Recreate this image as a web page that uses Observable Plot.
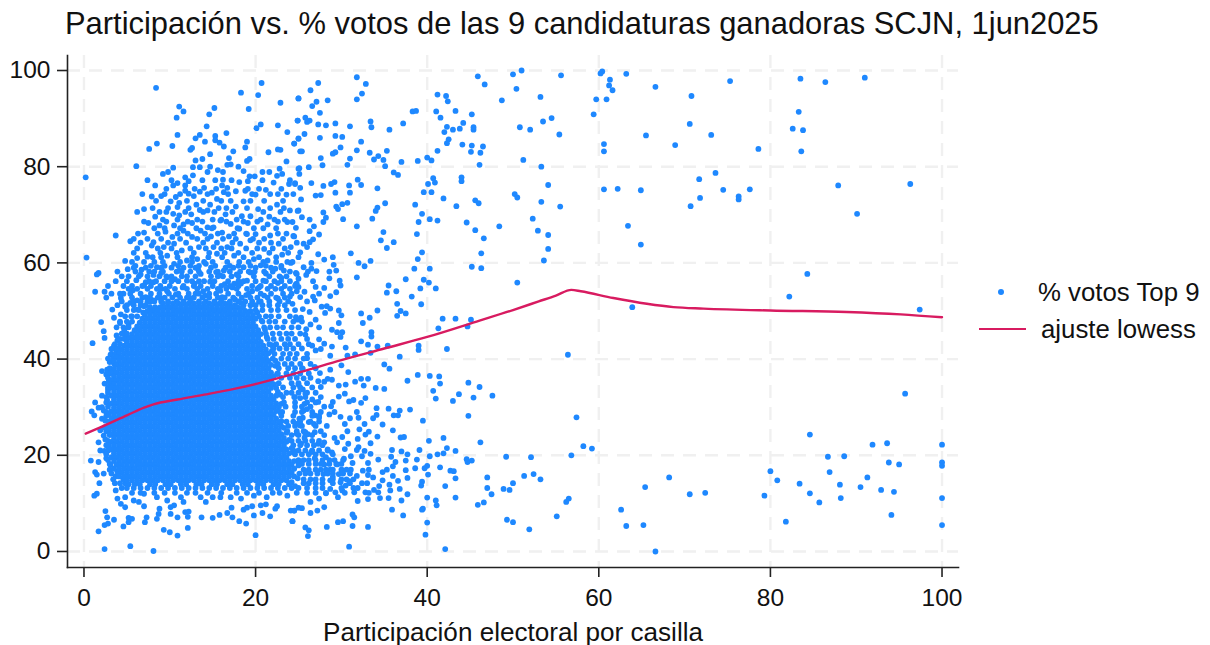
<!DOCTYPE html>
<html lang="es">
<head>
<meta charset="utf-8">
<script src="https://cdn.jsdelivr.net/npm/d3@7"></script>
<script src="https://cdn.jsdelivr.net/npm/@observablehq/plot@0.6"></script>
<style>
html,body{margin:0;padding:0;background:#fff;width:1210px;height:645px;overflow:hidden}
body{position:relative;font-family:"Liberation Sans",Arial,sans-serif;color:#111}
#title{position:absolute;left:65px;top:6px;font-size:30.9px;line-height:36px;white-space:nowrap}
#chart{position:absolute;left:0;top:50px}
#xlabel{position:absolute;left:323px;top:617px;font-size:26.1px;line-height:30px;white-space:nowrap}
.leg{position:absolute;font-size:25.8px;line-height:30px;white-space:nowrap}
.dot{position:absolute;left:998px;top:289px;width:6px;height:6px;border-radius:50%;background:#1e88ff}
.ln{position:absolute;left:979px;top:328px;width:47px;height:2px;background:#d81b60}
</style>
</head>
<body>
<div id="title">Participación vs. % votos de las 9 candidaturas ganadoras SCJN, 1jun2025</div>
<div id="chart"></div>
<div id="xlabel">Participación electoral por casilla</div>
<div class="dot"></div><div class="leg" style="left:1038px;top:277px">% votos Top 9</div>
<div class="ln"></div><div class="leg" style="left:1041px;top:314px">ajuste lowess</div>
<script>
const xTicks = [0,20,40,60,80,100];
const yTicks = [0,20,40,60,80,100];
const lowessX = [0.2,1.9,5,7,8.1,10.9,14,17.5,20.2,25.2,30,35,40,46.1,50,53,55,56.8,57.9,61.7,65.6,68.7,72.2,80,88.9,95.2,100];
const lowessY = [24.5,25.8,28.3,29.9,30.6,31.6,32.6,33.8,34.9,37.3,39.8,42.2,44.6,48,50.2,52,53.2,54.4,54.1,52.7,51.5,50.8,50.5,50.1,49.8,49.3,48.7];
// flat x,y pairs
const farRight = [60.4,99.8,60.2,99.4,61.3,98.1,61.2,96.9,61.6,95.9,63.2,99.3,66.6,96.6,59.7,94,60.9,94,59.4,90.9,70.8,94.7,75.3,97.8,83.5,98.3,86.4,97.6,91,98.5,83.3,91.4,82.6,87.9,83.8,87.6,83.6,83.2,70.6,88.9,73.1,86.6,68.9,84.5,65.5,86.5,60.6,84.7,60.6,83.2,78.6,83.7,73.6,78.7,71.7,77.4,60.6,75.3,62.2,75.4,64.9,75.1,74.5,75.2,77.6,75.3,76.3,73.8,76.3,73.2,71.8,73.5,70.7,71.8,87.9,76.1,96.3,76.4,90.1,70.2,63.4,67.7,64.9,63.8,84.3,57.7,82.2,53,63.9,50.8,97.4,50.3,58.2,21.9,59.2,21.4,95.7,32.8,84.6,24.3,91.9,22.2,93.6,22.5,100,22.2,86.7,19.7,88.6,19.8,93.8,18.5,95,18.1,100,18.5,100,17.8,80,16.7,80.8,14.8,86.9,16.5,91.3,15.4,83.4,14.1,88.1,13.9,90.5,13.4,92.9,12.8,94.4,12.4,84.6,12.1,88.2,11.1,85.7,10.2,79.3,11.6,100,11.1,94.1,7.6,100,5.5,81.8,6.2,68.2,15.4,65.4,13.4,70.6,11.9,72.4,12.2,62.6,8.7,63.2,5.3,65.2,5.5,66.6,0];
const midTop = [31.8,98.6,32.85,97.2,32.4,95.2,31.8,94,27.3,97.4,26.4,95.9,25,94.2,28.4,93.8,27.1,93.5,26.6,92.6,27.5,91.2,24.9,89.6,25.8,90.2,26.3,89.6,26,89.3,27.3,88.8,28.2,88.6,29.3,89,31,88.4,33.4,89.4,33.5,88.2,35.6,87.7,37.2,89,38.3,91.5,38.7,91.6,41.2,95,42.2,94.7,42.4,93.6,41.05,91.5,43.3,91.6,45.2,90.9,41.55,90.2,44.2,89.1,42.3,88.3,43,87.7,43.8,87.9,45.4,88.2,45.4,87.7,42,87.2,42.5,85.7,42.3,84.9,44.1,84.6,45.2,84.4,46.5,84.2,41.2,83.3,45.1,83.1,46.2,82.9,45.9,98.8,46.7,97.1,50,99.2,51,100,55.6,99,50.4,96.2,48.7,93.8,53.2,94.5,54.5,90.1,53.5,89.4,50.8,88.2,52,87.7,55.4,86.7,51.2,81.4,53.3,80,46.1,80.4,40,81.9,40.5,81.3,38.9,81.2,37,81,35.3,83.3,33.3,82.9,31.8,83.4,34.3,82.2,33.8,81.5,34.9,81.4,35.1,80.1,36.1,78.8,36.6,78.3,32.3,85.2,31,81.7,30.7,80.4,27.6,81.8,27.8,80.3,26.2,79.9,25.1,79.7,25.1,78.5,29.3,86.4,30.1,86.2,27.5,86,25.7,86.8,25,85.9,24.5,84.8,25.4,83.2,29.9,84,29.3,83,29,82.7,31.9,77.3,32.3,76.2,30.9,76.1,29.2,76.8,28.8,76.4,27.9,76,26.5,76.6,24.6,76.6,25.2,75.6,34.2,75.5,29.3,74.6,31,74.6,27.6,74.1,27,74,25.3,73.2,40.1,76.4,40.7,77.6,40.9,76.7,44,77.8,44,77,39.6,74.7,40.5,74.7,41.9,73.4,45.6,73,46,72.4,50.2,74.3,50.5,73.6,54.1,76.2,53.3,72.7,55.5,71.7,43.4,71.8,38.6,72.1,35.1,72.4,34.2,71.5,34,70.8,30.7,72.5,30.1,72.2,29.4,71.7,29.6,71.2,27.9,70.5,24.9,70.8,28.2,69.4,27.9,68.5,25.4,69.5,26.3,69,30.2,69.1,33.6,69.2,39.4,70.2,40.3,69.1,41.2,68.8,39,68.5,31.8,67.6,44.6,68.4,45.6,66.8,48.4,67.6,52.3,69.2,52.9,66.7,54.1,65.8,46.6,65.1,54.1,62.9,53.6,60.5,46.3,62,45.2,59.2,46.3,58.9,50.5,55.9,34.9,66.4,38.8,66,34.6,64.7,36.1,64.3,35.3,63.1,39.4,62.2,38.9,60.8,31.1,62,29,61.2,28,60.7,27.3,61.8,33.4,60.4,32,60,32.7,59.3,38.5,58.8,40.3,58.8,37.5,56.6,39.6,56.5,40.2,55.9,31.8,57,35.5,55.3,39.2,54.7,41,54.7,35.3,53.8,36.4,54.1,38.2,53,36.5,51.5,39.3,51.4,34.2,50.1,32.3,49.5,33.3,48.6,36.9,50,37.5,49.5,36.5,49,41.8,48.4,43.3,48.4,45.1,48.2,26.3,66.6,27.4,65.9,26.8,67.6,24.7,67.3,24.4,65.6,26.7,64.9,26.3,64.3,25.6,64,26,63.3,25.6,59.1,26.5,60,26.5,58.8,27.1,58.3,29.1,59.6,29.4,58.4,28.6,58.2,29.8,56.3,29.9,55.3,26.7,56.2,25.9,57.5,24.8,57.7,28,54.8,27.4,53.6,26.7,53,26.9,52.2,28.7,53.1,29.4,53.9,25.5,50.4,27.7,50.9,28.3,51,28.7,50.5,28.1,49.6,29.7,50.1,30,49.1,24.7,55.6,25,55,24.8,54.1,25.2,52.9,24.3,51.5,24.7,48.7,25.3,48.6,24.1,60];
const midLow = [41.3,46.4,44.7,46.8,39,42.8,39,41.9,42.3,42.1,36.8,40.5,56.4,40.9,35,38.9,35.6,38,38.9,36.7,40.3,36.5,41.4,36.4,41.5,34.9,37.7,35.5,44.8,35.1,46.1,34.2,40.7,33.4,43.7,32.7,47.6,32.4,45.4,32,41,31.8,43,31.3,44.8,28.2,57.4,27.9,39.5,27.2,46.2,22.7,41.9,23.6,40.2,23,42.3,21.5,43.3,20.9,41.9,20.4,41.2,20.2,40.3,19.8,39.1,21.1,38.8,19.1,40,17.8,39.7,17.3,41.5,17.5,44.6,19.2,45.2,18.9,44.7,18.6,49.2,19.7,52.1,19.6,56.8,20,42.7,16.8,43.1,16.7,40.1,16,43.3,15.2,47,15.4,51.3,15.7,52.4,16.1,53.2,15,50,14.2,47,13.2,48.9,13,49.6,12.8,47.5,11.9,42.1,13.6,39.4,14.5,39.3,13.7,43.3,11.2,40,11.2,41,10.6,41.1,9.6,46.6,10.2,45.9,9.7,56.5,11,56.2,10.3,39.5,8.9,39.4,8.7,35.9,8.7,37.2,7.5,40,6,39.8,3.5,42.1,0.5,49.3,6.6,50,6.1,51.9,4.6,55.1,7.3,30.9,1,33.1,5.1,31.3,5.3,31.5,7.1,31.3,7.7,30.2,6.3,29.6,6.1,28.3,5.1,26.2,4.4,25.8,5,26.1,3.2,26.4,8,24.3,6.3,27.2,8.5,24.5,8.5,25.4,9,35.5,29.7,34.1,29.8,36.8,29.3,38,29.5,36.1,28.3,36.6,28.3,34.1,28.4,33.7,27.7,36,25.2,34.2,23.9,36.9,23.7,37.3,23.8,32.8,24.3,32.1,25.4,32.7,26.5,32,27.8,31.8,29,29.2,29,28.6,28.5,28.3,26.1,27.4,27.8,30.4,26.5,30.7,25,30.1,23.8,29.2,23.6,28,22.7,29.5,22.7,31.9,23.4,33.4,22.5,30.4,21.3,32,21.7,35.9,21.1,37,20.8,37.7,20.2,35.8,19.7,37.5,18.9,36.3,18.6,36,17.7,35.3,17,34.8,16.5,37.5,16.9,38.6,17.3,37.7,15.3,36,15.7,34.8,14.8,36.6,14.7,33.7,15.4,33.2,17,32.5,16.8,31.8,15.7,32.4,14.2,32.8,12.3,34.5,11.1,33.1,10.9,31.9,10.5,35.5,11.1,37,10.6,37.7,11.9,35.7,12.7,36.8,13,33.8,12.8,34.3,12.3,31.5,12.3,30.5,13.7,29.9,14.4,29.3,12.3,29.6,11.3,28.7,13,28,9.2,27.4,11,26.4,10.3,33.4,20.3,34.3,19.1,33.1,18.4,32.4,19.8,31.1,19.8,30.3,19.3,31.1,17,29.5,18.1,29.7,16.1,28.7,17,27.9,16.1,28.7,14.8,28,18.1,32.5,47.5,33.5,45.6,33.5,44.7,32.3,43.7,33.1,43,34.2,42.6,35.4,42.8,30.5,42.4,28.9,42.6,28,43.2,27.4,44.1,26.4,47.2,27.4,46.6,28.9,46.1,29.7,47.5,29.5,45.6,30.1,45.6,29.9,44.6,25.2,45.3,25.8,45.1,24.9,48.2,27.6,42.1,27,41.8,28.7,40.7,30.7,40.7,31.6,41,33.4,41.3,30,38.7,30.8,37.3,28.7,37.8,27.5,37.1,25.6,36,27.3,35.4,28,35.3,28.4,35.9,28.9,35.7,29.7,34.5,30.5,34.7,31.6,35.3,32.3,35.9,33.1,35.9,32.6,34.5,34,34,35,33.8,27.6,34.2,25.5,33.7,30.4,32.8,29.7,32.2,32.8,31.9,31.4,31.5,30.9,31.2,32.3,30.9,29,31.1,27.3,31.1,26.6,31.6,25.8,32.8,25.2,31.9,24.5,32.1,25.6,29.3,25.5,27.8,26.2,26.9,26.8,26.5,25.2,26.2,26.9,24.8,25.8,24.8,24.8,24.5];
const upperLeft = [0.2,77.8,0.3,61.1,8.4,96.4,11.1,92.5,11.6,91.5,10.8,90.2,15.2,92.2,14.6,90.9,14.3,88.4,18.3,95.4,20.7,97.4,20.3,94.9,19.2,92,22.9,93.3,25,94.2,24.9,89.6,22.6,88.6,20.1,88,20.6,88.8,23.7,87.2,24.5,84.8,25,85.8,10.9,86.6,13,85.9,13.5,86.6,14.1,85.2,15.3,86.4,15.3,85.5,15.8,85,16.3,84.2,16.6,87,8.5,84.8,7.6,83.7,10.3,84.3,12.6,83.9,12.4,83.5,19,85.2,18.8,84,17.4,83.2,14.7,82.6,16.9,81.8,13.8,81.6,13,81.3,21.5,83,22.6,83.6,22.9,83.5,25.2,83.2,6.1,80.1,10.4,79.8,12.7,79.9,13.5,79.9,14.7,80,15.6,79.3,16.7,80.4,17.1,80.5,18,80,18.6,79.1,19,81.2,19.3,81.6,20.8,78.9,23.6,81.1,22.8,79.6,23.1,78.5,22.5,78.1,25,79.6,9.2,78.5,11.8,77.8,12.7,78.2,12.2,77,16.2,77.3,18.1,76.8,19.3,78,19.9,78,19.1,77,22.1,76.7,23.9,76.4,24.6,76.4,10.9,76.6,10.4,76.1,8.3,76.1,16.1,76.1,11.8,76.1,14,75.6,16.7,75.6,13.5,74.8,11.8,75,21.2,75.2,21.7,74.3,16.3,74.7,14.9,74.6,17.7,74.9,18.8,75,20,74.2,7.9,73.8,9,73.9,10.7,73.7,12.2,74.4,12.8,73.9,15.5,73.3,18.6,72.8,23.6,74.2,10.1,72.8,11.1,72.5,10.9,71.6,13.1,72.1,14.7,72.1,17.7,71.7,20.3,71.2,22.5,72.1,24,70.9,25,70.9,7,71.2,9.6,70.6,10.4,70.2,12.5,70.1,13.5,71,14.4,70.9,16.5,70.1,18.4,69.7,19.4,69.7,21.6,69.6,8.3,69.6,11.1,69.9,7.5,68.3,8.8,67.8,10.5,67.8,11.6,68,12.6,68.3,14.4,67.4,15.9,68.8,17.1,68.1,19.1,68.3,21.4,68,23.7,68.5,24.3,68.5,7,66.3,9.5,66.5,11.6,66.7,13.6,66.7,15.1,67.4,16.1,66.3,18.1,67.1,3.7,65.7,5.4,64.5,8.1,64.3,10.3,65.4,12.6,65.4,14.8,65.5,16.9,65.5,19,66,20,66,21.7,65.7,24.5,65.5,7.9,63.6,9.3,63.3,10.5,64,11.4,62.6,13.4,63.3,15.1,63.3,16.7,63.3,18.2,64,19.4,64.7,21,62.9,22.7,64,24.1,63.3,25.2,62.2,7.4,61.3,6.2,61,4.8,60.4,5.1,58.7,6.7,58.6,9.7,61.5,12,60.5,13.2,60.8,15.5,61.9,17.5,61.5,19.8,60.8,21.4,60.5,23.1,61.7,24.3,60.2,1.7,57.9,1.5,57.6,8.5,59.1,10.5,59.8,14.2,59.8,16.3,58.4,18.6,59.1,20.6,59.5,22.3,58.8,23.3,58.4,24.7,57.9,6.1,56.4,7.2,56,8.1,57.5,9.7,57,12,56.3,13.6,57.7,15.9,57.4,17.5,55.7,19,56.3,20.9,56.3,22.3,54.6,24.8,55.7,1.3,54,2.4,54,4.6,53.6,5.7,54.3,4.3,52.7,5.4,51.7,6.2,52.2,7.2,52.9,3.3,50.3,8.1,52.2,4.8,50.9];
const lowerLeft = [2,47.7,2.3,45.8,2.4,44.4,1,43.3,3.5,48.6,4.3,49.3,3.9,43.9,4.8,44.7,3.2,42.1,3.8,41.8,3,39.4,3.5,39.1,2.1,37.5,2.6,36.8,2.4,34.9,2.1,32.4,1.3,31,1.7,29.9,2.1,30,0.9,29.1,1.2,28.3,2.1,27.6,1.9,25.2,2.3,24.1,1.7,22.7,1.9,21,0.8,18.9,1.7,18.6,1.3,16.5,1.5,16,2.3,16.2,1.8,14.2,1.2,11.6,1.5,12,2.5,8.4,2.7,7.1,3.5,6.6,2.4,5.5,2.8,5.8,1.7,4.2,2.4,0.5,5.4,1.1,8.1,0.1,4.6,5.2,5.2,7,5.6,6.8,5.2,6.1,7.1,6.1,7.3,7.1,8.5,6.8,8.7,7.8,8.8,8.9,9.3,4.5,10,4,10.9,3.3,12.1,4.9,10.9,7.1,10.1,7.8,11.8,8.2,12.2,8.3,12.1,7.2,13.7,7.1,15,7,15.8,7.6,16.7,8,17.2,9.1,17.3,7.1,18.1,6.3,18.9,5.8,18.6,8.7,19,9.1,19.6,9.4,19.8,7.5,20.8,8,21.7,7.3,20,3.4,22.3,8.9,22.5,9.4,24.1,8.5,24.5,8.5,24.3,6.3,25,9.1,20.6,9.6,21.2,9.8,3.7,12.7,4.8,11.3,3.9,11,4.3,9.9,4.8,9.2,5.8,10.6,6.4,10.3,7,9.4,9.7,10.6,10.1,9.2,10.5,9.6,11.3,11.3,11.6,10.3,13.6,11.3,14.2,10.3,15,11.3,15.9,11.3,17.1,11.3,18.3,11,19.8,11.6,21.3,11.3,23.7,11.6,7,12,8.5,11.3];
const edgeFill = [8.9,52.7,10.7,53.4,12.5,52.6,14.1,53.2,16.1,52.9,18.9,53.3,9.7,54.1,11.5,54.9,13.9,54.1,15.9,54.2,17.3,54.9,19.6,54.1,21,53.2,7,55.3,8.1,56,10.6,56.6,12.9,55.7,14.7,56.1,16.4,55.6,18.3,55.7,20.4,54.9,22.6,55.8,6.6,57.6,9,57.9,11.1,58.4,13.3,58.7,15.4,58.1,17.8,57.6,19.4,58,21.2,57.8,23,56.9,24,53,22.6,52.6,20.4,51.9,18.3,51.7,17.6,52.4,7,51,6.2,50.3,7.7,51.9,6.9,49.7,5.5,48.9,5.2,47.2,4.7,46,20.2,49.7,20.7,48,21.1,46.1,21.3,44.6,21.9,42.9,21.9,41.7,22.3,39.7,22.3,38.6,22.5,36.9,22.6,33.2,22.9,32.6,23,30.7,22.9,28.9,23,27.1,23.3,25.7,23.6,24.7,23.9,23.2,24.2,21.5,24.4,20.6,25,18.6,25,17.9,25.1,16.2,24.9,15.2,24.2,14.4,24.6,13.6,5.2,14,4.8,14.2,4.6,15,3.7,15.6,3.9,16.6,3.1,18,2.6,19.4,2.4,20.9,2.5,23.3,2.4,25.8,2.5,27.2,2.3,29.3,2.7,31.5,2.8,33.6,2.9,35.5,2.7,37.8,3.1,40.9,3.5,42.8,3.8,44.9,4.2,47.5,24.9,26.6,25.3,22.4,25.7,23.6,26.5,20.7,26.9,19.4,28.2,19.6,28.9,20.6,29.2,19,27.3,22.4,28.4,21.2,26.1,24.4,25.1,27.6,26,29.6,26.9,28.3,25.7,30.7,25,34.7,25.5,38,26,40.2,26.9,38.4,26.6,42.8,25.9,46.2,27,48.2,26.3,49.8,26,52,25.7,54,27,55,28.6,56.8,25,56.7,26.1,58.2,30.9,14.6,31.9,13.2,33.1,15.9,34.4,13.6,35.6,13.9,28.2,12.1,29,15.5,30.1,12.7,32.7,20.9,31.3,18.4,31.8,21.1,30.1,16.9,30.8,22.4,33.2,24.9,34.8,26.4,31,27.7,29.9,28,28.8,30.2];
// bands of many overlapping points: [y, x, x, x, ...]
const upperFill = [
[78.9,9.8,14.4,16.2,21.6],[77.2,7.4,10.2,13.8,15.3,17.2,20.8,24],[75.4,9.6,12.9,15.4,19.1,20.4,23],[74.3,6.8,9.4,11.2,14.4,16.8,19.6,22.6,24.4],
[72.9,8.4,12,13.9,16,17.1,19.4,21,23.2],[71.4,8,9.8,12.2,15.7,16.6,19,21.7,23.3],[70.6,6.2,8.8,11.8,13.9,15.2,17.3,20.9,22.9],[69,9.2,10.9,13.2,15,16,17.8,20.6,22.2,23.4],
[68.6,7,9.6,12.1,13.8,16.6,18.6,20.2,22.6],[67.2,8.2,9.4,11.2,13.1,14.9,17.9,19.8,20.9,22.4],[66.1,6.3,8.6,10.9,12.1,14.1,15.6,17.5,18.9,22.6,23.6],[65,5.8,7.4,9,11.2,13.2,14.4,16.2,17.7,19.7,21,23.2],
[64.2,6.6,9.8,11.9,13.9,15.5,17.3,20.4,21.8,24.8],[63,6.2,8.6,10.2,12.4,14.2,16,17.2,18.9,20.2,22,23.4],[62.1,5.8,7.2,8.9,10.8,12.8,14.6,16.4,18,19.6,21.6,23.8],[61.2,8,9,10.9,12.6,14.5,16.1,18.6,20.4,22.4,25],
[60.2,5.6,7,8.2,9.2,11.2,12.6,14,15,16.7,18.1,19.2,20.9,22.4,23.7],[59.4,6,7.8,9.4,11,12.4,13.4,15.3,17,18,19.4,21.2,23]
];
const halo = [
[59,9,11.6,16.5,23,5.8,7.2,10.2,13,14.8,17.4,20,21.8],[58.2,7.6,9.2,10.8,12.4,14.6,17,19.2,21,22,3.9,6,8.2,11.4,13.4,15.6,18.2,19.9,24],[57.2,6.4,8.8,10.2,11.4,13,14.8,16.2,18,19.8,21.6,23.6,4.4,5.2,7.4,9.6,12,15.6,17.2,22.8],
[56.2,8.4,9.4,11,12.6,14,15.2,16.8,18.6,20,21.2,23,24,3.7,5,7.6,10.2,13.4,18,22.2],[55.2,6.8,7.8,8.9,10,11.6,12.8,13.6,15,16,17,18,19.6,20.6,21.8,23.4,2.8,4.6,5.6,24.6],
[54.6,6.2,7.4,8.5,9.5,10.6,12,13.2,14.4,15.6,16.6,17.8,19,20.2,21.4,23,24,5.2,9],[53.6,5.4,6.6,7.8,8.8,9.9,11,12.2,13.4,14.6,15.4,16.8,18,19.2,20.6,21.8,23.2,24.2,3.2,4.2,13],
[52.8,6.8,7.7,8.6,9.4,10.3,11.2,12,12.8,13.8,14.6,15.6,16.4,17.4,18.4,19.4,20.2,21.4,22.4,23.4,2.6,5.6],[52,4.4,5.8,6.6,7.4,8.2,9,9.8,10.8,11.6,12.4,13.4,14.2,15.2,16,17,18,18.8,19.6,20.6,21.6,22.8,23.8],
[51.2,3.9,5,5.8,6.6,7.2,16.8,17.6,18.6,19.4,20,20.8,21.6,22.6,23.4],[50.2,5,5.8,6.4,20,20.8,21.8,22.6,23.6,24.6],[48.9,4.8,5.6,6.2,20.4,21.2,21.8,22.7,24],
[47.8,4.2,5,5.6,20.8,21.6,22.3,23.4,24.4,25.4],[46.6,3.8,4.6,5.2,21,21.7,22.5,23.2,24.2,25],[45.3,4.4,5,21.2,22,22.8,23.6,24.2],[44.2,4.2,4.7,21.4,22.1,23,23.8,24.6,26],
[43.1,3.6,4.2,21.6,22.4,23.4,24,25,26.2],[42.2,3.4,3.9,22.1,22.8,23.6,24.4,25.4],[41.1,3.2,3.7,22.2,23.2,24,24.8,26],[40.1,2.8,3.4,22,23,23.8,24.6,25.6],[39,22.6,23.4,24.2,25.2,26.4],[38.1,3,22.7,23.8,24.6,25.4,27],
[37,3,22.6,23.6,24.4,25.2,26.2],[36.1,2.8,23,24,24.8,26.4],[35,3,22.7,24.2,25,26],[34.1,2.8,23.2,24.4,25.2,26.6],[33,2.8,23.6,24.2,25,26,27],[32.1,2.6,23.2,24.6,25.8,27.6],
[31,2.6,23.3,24.6,26,27],[30.1,2.8,23.5,24.6,25.4,26.4,28],[29,2.6,23.1,24.6,25.4,26.6,27.6],[28.2,2.6,23,24.4,26.6,27.4],[27,3,23.6,24.4,25.2,26.4,27.4],[26.1,2.8,23.8,24.6,25.4,27],
[25,2.6,23.7,24.8,25.6,27.6],[24.2,3,24.2,25,25.8,26.6,28],[23,2.8,24.2,25,25.8,26.6,27.4],[22.1,2.6,24.4,25.2,26,26.8,27.8],[21,2.8,24.4,25,25.8,26.6,27.4,28.4],[20.2,2.6,24.6,25.4,26.2,27,27.8,29],
[19,2.8,25,25.6,26.2,27,27.8,28.6,30.2],[18.2,3,25.4,26.2,27,27.6,28.6,29.4,30],[17,3,25.6,26.2,27,27.6,28.2,29,30,30.6],[16.2,3.2,25.8,26.4,27.2,28.4,29,30.2,31],[15,3.4,25.6,26.4,27,27.8,29,30,30.6,31.4],[14.2,3.6,4.2,25.6,26.2,27,27.8,29,31,33],
[13.2,4.4,5,5.8,6.6,7.4,8.2,9,9.8,10.6,11.4,12.2,13,13.8,14.6,15.4,16.2,17,17.8,18.6,19.4,20.2,21,21.8,22.6,23.4,24.2,25,26,27,27.8,30,31.4],[12.2,5.6,6.6,8.2,9.4,10.6,12,13,14.4,16,17.8,19,20.4,22,22.8,24.8,26,27,28.2,30.4,33.2]
];
const core = [
[51.6,9.2,9.8,10.4,11,11.6,12.2,12.8,13.4,14,14.6,15.2,15.8,16.4,17],
[50.8,7.7,8.3,8.9,9.5,10.1,10.7,11.3,11.9,12.5,13.1,13.7,14.3,14.9,15.5,16.1,16.7,17.3,17.9,18.5],
[50,7.4,8,8.6,9.2,9.8,10.4,11,11.6,12.2,12.8,13.4,14,14.6,15.2,15.8,16.4,17,17.6,18.2,18.8,19.4],
[49.2,7.1,7.7,8.3,8.9,9.5,10.1,10.7,11.3,11.9,12.5,13.1,13.7,14.3,14.9,15.5,16.1,16.7,17.3,17.9,18.5,19.1,19.7],
[48.4,6.8,7.4,8,8.6,9.2,9.8,10.4,11,11.6,12.2,12.8,13.4,14,14.6,15.2,15.8,16.4,17,17.6,18.2,18.8,19.4,20],
[47.6,6.5,7.1,7.7,8.3,8.9,9.5,10.1,10.7,11.3,11.9,12.5,13.1,13.7,14.3,14.9,15.5,16.1,16.7,17.3,17.9,18.5,19.1,19.7],
[46.8,6.2,6.8,7.4,8,8.6,9.2,9.8,10.4,11,11.6,12.2,12.8,13.4,14,14.6,15.2,15.8,16.4,17,17.6,18.2,18.8,19.4,20],
[46,5.9,6.5,7.1,7.7,8.3,8.9,9.5,10.1,10.7,11.3,11.9,12.5,13.1,13.7,14.3,14.9,15.5,16.1,16.7,17.3,17.9,18.5,19.1,19.7,20.3],
[45.2,5.6,6.2,6.8,7.4,8,8.6,9.2,9.8,10.4,11,11.6,12.2,12.8,13.4,14,14.6,15.2,15.8,16.4,17,17.6,18.2,18.8,19.4,20,20.6],
[44.4,5.3,5.9,6.5,7.1,7.7,8.3,8.9,9.5,10.1,10.7,11.3,11.9,12.5,13.1,13.7,14.3,14.9,15.5,16.1,16.7,17.3,17.9,18.5,19.1,19.7,20.3],
[43.6,5,5.6,6.2,6.8,7.4,8,8.6,9.2,9.8,10.4,11,11.6,12.2,12.8,13.4,14,14.6,15.2,15.8,16.4,17,17.6,18.2,18.8,19.4,20,20.6],
[42.8,4.7,5.3,5.9,6.5,7.1,7.7,8.3,8.9,9.5,10.1,10.7,11.3,11.9,12.5,13.1,13.7,14.3,14.9,15.5,16.1,16.7,17.3,17.9,18.5,19.1,19.7,20.3,20.9],
[42,4.4,5,5.6,6.2,6.8,7.4,8,8.6,9.2,9.8,10.4,11,11.6,12.2,12.8,13.4,14,14.6,15.2,15.8,16.4,17,17.6,18.2,18.8,19.4,20,20.6,21.2],
[41.2,4.1,4.7,5.3,5.9,6.5,7.1,7.7,8.3,8.9,9.5,10.1,10.7,11.3,11.9,12.5,13.1,13.7,14.3,14.9,15.5,16.1,16.7,17.3,17.9,18.5,19.1,19.7,20.3,20.9,21.5],
[40.4,3.8,4.4,5,5.6,6.2,6.8,7.4,8,8.6,9.2,9.8,10.4,11,11.6,12.2,12.8,13.4,14,14.6,15.2,15.8,16.4,17,17.6,18.2,18.8,19.4,20,20.6,21.2],
[39.6,3.5,4.1,4.7,5.3,5.9,6.5,7.1,7.7,8.3,8.9,9.5,10.1,10.7,11.3,11.9,12.5,13.1,13.7,14.3,14.9,15.5,16.1,16.7,17.3,17.9,18.5,19.1,19.7,20.3,20.9,21.5],
[38.8,3.8,4.4,5,5.6,6.2,6.8,7.4,8,8.6,9.2,9.8,10.4,11,11.6,12.2,12.8,13.4,14,14.6,15.2,15.8,16.4,17,17.6,18.2,18.8,19.4,20,20.6,21.2,21.8],
[38,3.5,4.1,4.7,5.3,5.9,6.5,7.1,7.7,8.3,8.9,9.5,10.1,10.7,11.3,11.9,12.5,13.1,13.7,14.3,14.9,15.5,16.1,16.7,17.3,17.9,18.5,19.1,19.7,20.3,20.9,21.5],
[37.2,3.2,3.8,4.4,5,5.6,6.2,6.8,7.4,8,8.6,9.2,9.8,10.4,11,11.6,12.2,12.8,13.4,14,14.6,15.2,15.8,16.4,17,17.6,18.2,18.8,19.4,20,20.6,21.2,21.8],
[36.4,3.5,4.1,4.7,5.3,5.9,6.5,7.1,7.7,8.3,8.9,9.5,10.1,10.7,11.3,11.9,12.5,13.1,13.7,14.3,14.9,15.5,16.1,16.7,17.3,17.9,18.5,19.1,19.7,20.3,20.9,21.5,22.1],
[35.6,3.2,3.8,4.4,5,5.6,6.2,6.8,7.4,8,8.6,9.2,9.8,10.4,11,11.6,12.2,12.8,13.4,14,14.6,15.2,15.8,16.4,17,17.6,18.2,18.8,19.4,20,20.6,21.2,21.8],
[34.8,3.5,4.1,4.7,5.3,5.9,6.5,7.1,7.7,8.3,8.9,9.5,10.1,10.7,11.3,11.9,12.5,13.1,13.7,14.3,14.9,15.5,16.1,16.7,17.3,17.9,18.5,19.1,19.7,20.3,20.9,21.5,22.1],
[34,3.2,3.8,4.4,5,5.6,6.2,6.8,7.4,8,8.6,9.2,9.8,10.4,11,11.6,12.2,12.8,13.4,14,14.6,15.2,15.8,16.4,17,17.6,18.2,18.8,19.4,20,20.6,21.2,21.8,22.4],
[33.2,3.5,4.1,4.7,5.3,5.9,6.5,7.1,7.7,8.3,8.9,9.5,10.1,10.7,11.3,11.9,12.5,13.1,13.7,14.3,14.9,15.5,16.1,16.7,17.3,17.9,18.5,19.1,19.7,20.3,20.9,21.5],
[32.4,3.2,3.8,4.4,5,5.6,6.2,6.8,7.4,8,8.6,9.2,9.8,10.4,11,11.6,12.2,12.8,13.4,14,14.6,15.2,15.8,16.4,17,17.6,18.2,18.8,19.4,20,20.6,21.2,21.8,22.4],
[31.6,3.5,4.1,4.7,5.3,5.9,6.5,7.1,7.7,8.3,8.9,9.5,10.1,10.7,11.3,11.9,12.5,13.1,13.7,14.3,14.9,15.5,16.1,16.7,17.3,17.9,18.5,19.1,19.7,20.3,20.9,21.5,22.1],
[30.8,3.2,3.8,4.4,5,5.6,6.2,6.8,7.4,8,8.6,9.2,9.8,10.4,11,11.6,12.2,12.8,13.4,14,14.6,15.2,15.8,16.4,17,17.6,18.2,18.8,19.4,20,20.6,21.2,21.8,22.4],
[30,3.5,4.1,4.7,5.3,5.9,6.5,7.1,7.7,8.3,8.9,9.5,10.1,10.7,11.3,11.9,12.5,13.1,13.7,14.3,14.9,15.5,16.1,16.7,17.3,17.9,18.5,19.1,19.7,20.3,20.9,21.5,22.1,22.7],
[29.2,3.2,3.8,4.4,5,5.6,6.2,6.8,7.4,8,8.6,9.2,9.8,10.4,11,11.6,12.2,12.8,13.4,14,14.6,15.2,15.8,16.4,17,17.6,18.2,18.8,19.4,20,20.6,21.2,21.8,22.4],
[28.4,2.9,3.5,4.1,4.7,5.3,5.9,6.5,7.1,7.7,8.3,8.9,9.5,10.1,10.7,11.3,11.9,12.5,13.1,13.7,14.3,14.9,15.5,16.1,16.7,17.3,17.9,18.5,19.1,19.7,20.3,20.9,21.5,22.1],
[27.6,3.2,3.8,4.4,5,5.6,6.2,6.8,7.4,8,8.6,9.2,9.8,10.4,11,11.6,12.2,12.8,13.4,14,14.6,15.2,15.8,16.4,17,17.6,18.2,18.8,19.4,20,20.6,21.2,21.8,22.4],
[26.8,3.5,4.1,4.7,5.3,5.9,6.5,7.1,7.7,8.3,8.9,9.5,10.1,10.7,11.3,11.9,12.5,13.1,13.7,14.3,14.9,15.5,16.1,16.7,17.3,17.9,18.5,19.1,19.7,20.3,20.9,21.5,22.1,22.7],
[26,3.2,3.8,4.4,5,5.6,6.2,6.8,7.4,8,8.6,9.2,9.8,10.4,11,11.6,12.2,12.8,13.4,14,14.6,15.2,15.8,16.4,17,17.6,18.2,18.8,19.4,20,20.6,21.2,21.8,22.4,23],
[25.2,2.9,3.5,4.1,4.7,5.3,5.9,6.5,7.1,7.7,8.3,8.9,9.5,10.1,10.7,11.3,11.9,12.5,13.1,13.7,14.3,14.9,15.5,16.1,16.7,17.3,17.9,18.5,19.1,19.7,20.3,20.9,21.5,22.1,22.7],
[24.4,3.2,3.8,4.4,5,5.6,6.2,6.8,7.4,8,8.6,9.2,9.8,10.4,11,11.6,12.2,12.8,13.4,14,14.6,15.2,15.8,16.4,17,17.6,18.2,18.8,19.4,20,20.6,21.2,21.8,22.4,23],
[23.6,3.5,4.1,4.7,5.3,5.9,6.5,7.1,7.7,8.3,8.9,9.5,10.1,10.7,11.3,11.9,12.5,13.1,13.7,14.3,14.9,15.5,16.1,16.7,17.3,17.9,18.5,19.1,19.7,20.3,20.9,21.5,22.1,22.7,23.3],
[22.8,3.2,3.8,4.4,5,5.6,6.2,6.8,7.4,8,8.6,9.2,9.8,10.4,11,11.6,12.2,12.8,13.4,14,14.6,15.2,15.8,16.4,17,17.6,18.2,18.8,19.4,20,20.6,21.2,21.8,22.4,23,23.6],
[22,2.9,3.5,4.1,4.7,5.3,5.9,6.5,7.1,7.7,8.3,8.9,9.5,10.1,10.7,11.3,11.9,12.5,13.1,13.7,14.3,14.9,15.5,16.1,16.7,17.3,17.9,18.5,19.1,19.7,20.3,20.9,21.5,22.1,22.7,23.3],
[21.2,3.2,3.8,4.4,5,5.6,6.2,6.8,7.4,8,8.6,9.2,9.8,10.4,11,11.6,12.2,12.8,13.4,14,14.6,15.2,15.8,16.4,17,17.6,18.2,18.8,19.4,20,20.6,21.2,21.8,22.4,23,23.6],
[20.4,3.5,4.1,4.7,5.3,5.9,6.5,7.1,7.7,8.3,8.9,9.5,10.1,10.7,11.3,11.9,12.5,13.1,13.7,14.3,14.9,15.5,16.1,16.7,17.3,17.9,18.5,19.1,19.7,20.3,20.9,21.5,22.1,22.7,23.3,23.9],
[19.6,3.2,3.8,4.4,5,5.6,6.2,6.8,7.4,8,8.6,9.2,9.8,10.4,11,11.6,12.2,12.8,13.4,14,14.6,15.2,15.8,16.4,17,17.6,18.2,18.8,19.4,20,20.6,21.2,21.8,22.4,23,23.6],
[18.8,3.5,4.1,4.7,5.3,5.9,6.5,7.1,7.7,8.3,8.9,9.5,10.1,10.7,11.3,11.9,12.5,13.1,13.7,14.3,14.9,15.5,16.1,16.7,17.3,17.9,18.5,19.1,19.7,20.3,20.9,21.5,22.1,22.7,23.3,23.9,24.5],
[18,3.8,4.4,5,5.6,6.2,6.8,7.4,8,8.6,9.2,9.8,10.4,11,11.6,12.2,12.8,13.4,14,14.6,15.2,15.8,16.4,17,17.6,18.2,18.8,19.4,20,20.6,21.2,21.8,22.4,23,23.6,24.2],
[17.2,3.5,4.1,4.7,5.3,5.9,6.5,7.1,7.7,8.3,8.9,9.5,10.1,10.7,11.3,11.9,12.5,13.1,13.7,14.3,14.9,15.5,16.1,16.7,17.3,17.9,18.5,19.1,19.7,20.3,20.9,21.5,22.1,22.7,23.3,23.9,24.5],
[16.4,4.4,5,5.6,6.2,6.8,7.4,8,8.6,9.2,9.8,10.4,11,11.6,12.2,12.8,13.4,14,14.6,15.2,15.8,16.4,17,17.6,18.2,18.8,19.4,20,20.6,21.2,21.8,22.4,23,23.6,24.2],
[15.6,4.1,4.7,5.3,5.9,6.5,7.1,7.7,8.3,8.9,9.5,10.1,10.7,11.3,11.9,12.5,13.1,13.7,14.3,14.9,15.5,16.1,16.7,17.3,17.9,18.5,19.1,19.7,20.3,20.9,21.5,22.1,22.7,23.3,23.9,24.5],
[14.8,5,5.6,6.2,6.8,7.4,8,8.6,9.2,9.8,10.4,11,11.6,12.2,12.8,13.4,14,14.6,15.2,15.8,16.4,17,17.6,18.2,18.8,19.4,20,20.6,21.2,21.8,22.4,23,23.6],
[14,5.9,6.5,7.7,8.3,9.5,10.1,11.3,11.9,13.1,13.7,14.9,15.5,16.7,17.3,18.5,19.1,20.3,20.9,22.1,22.7,23.9]
];
const pairs = flat => d3.range(0, flat.length, 2).map(i => ({x: flat[i], y: flat[i + 1]}));
const rows = bands => bands.flatMap(([y, ...xs]) => xs.map(x => ({x, y})));
const points = [
  ...pairs(farRight), ...pairs(midTop), ...pairs(midLow), ...pairs(upperLeft), ...pairs(lowerLeft), ...pairs(edgeFill),
  ...rows(upperFill), ...rows(halo), ...rows(core)
];
const lowess = lowessX.map((x, i) => ({x, y: lowessY[i]}));
const gridOpts = {stroke: "#f0f0f0", strokeOpacity: 1, strokeWidth: 2.4, strokeDasharray: "13,9"};
const chart = Plot.plot({
  width: 1210, height: 595,
  marginLeft: 67, marginRight: 252, marginTop: 5, marginBottom: 78,
  style: {fontFamily: '"Liberation Sans",Arial,sans-serif', background: "#fff", color: "#111"},
  x: {domain: [-1.92, 101.92]},
  y: {domain: [-3.33, 103.12]},
  marks: [
    Plot.gridX(xTicks, gridOpts),
    Plot.gridY(yTicks, gridOpts),
    Plot.dot(points, {x: "x", y: "y", r: 2.9, fill: "#1e88ff", stroke: "none"}),
    Plot.line(lowess, {x: "x", y: "y", stroke: "#d81b60", strokeWidth: 2.4, curve: "monotone-x"}),
    Plot.frame({anchor: "left", stroke: "#222", strokeWidth: 1.6}),
    Plot.frame({anchor: "bottom", stroke: "#222", strokeWidth: 1.6}),
    Plot.axisX(xTicks, {anchor: "bottom", tickSize: 10, tickPadding: 11, fontSize: 24.5, stroke: "#222", strokeWidth: 1.6, label: null}),
    Plot.axisY(yTicks, {anchor: "left", tickSize: 10, tickPadding: 7, fontSize: 24.5, stroke: "#222", strokeWidth: 1.6, label: null})
  ]
});
document.getElementById("chart").appendChild(chart);
</script>
</body>
</html>
